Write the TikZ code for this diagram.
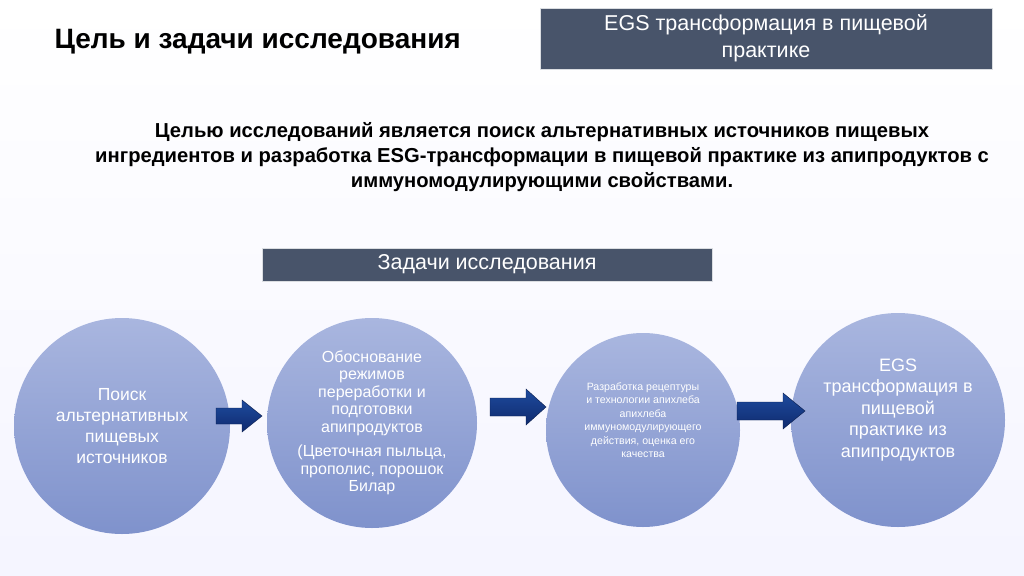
\documentclass[tikz,border=0pt]{standalone}
\usepackage{fontspec}
\setmainfont{Liberation Sans}
\definecolor{hdr}{HTML}{48546A}
\definecolor{circA}{HTML}{A9B6DF}
\definecolor{circB}{HTML}{7F92CC}
\definecolor{arrA}{HTML}{0F2A6E}
\definecolor{arrB}{HTML}{1E4B9E}
\begin{document}
\begin{tikzpicture}[x=1pt,y=-1pt,
  bar/.style={fill=hdr,draw=white!80!hdr,text=white,font=\fontsize{21.5}{27}\selectfont,align=center,inner sep=0pt},
  circ/.style={circle,top color=circA,bottom color=circB,draw=none,text=white,align=center,inner sep=0pt},
  ctext/.style={text=white,align=center},
  barrow/.style={top color=arrB,bottom color=arrA,draw=arrA!70!black}]
\useasboundingbox (0,0) rectangle (1024,575);
\fill[top color=white,bottom color=blue!4] (0,0) rectangle (1024,575);
\node[font=\bfseries\fontsize{28}{32}\selectfont,anchor=west] (title) at (51,42) {Цель и задачи исследования};
\node[bar,minimum width=452pt,minimum height=61pt] (egs) at (766,38.5) {EGS трансформация в пищевой\\практике};
\node[font=\bfseries\fontsize{20.2}{25}\selectfont,align=center] (goal) at (542,157) {Целью исследований является поиск альтернативных источников пищевых\\ингредиентов и разработка ESG-трансформации в пищевой практике из апипродуктов с\\иммуномодулирующими свойствами.};
\node[bar,minimum width=450pt,minimum height=33pt] (tasks) at (487,264.5) {Задачи исследования};
\node[circ,minimum size=216pt,font=\fontsize{17.5}{21}\selectfont] (c1) at (122,426) {Поиск\\альтернативных\\пищевых\\источников};
\node[circ,minimum size=210pt] (c2) at (372,423) {};
\node[ctext,font=\fontsize{16}{17.5}\selectfont] (c2t) at (372,393) {Обоснование\\режимов\\переработки и\\подготовки\\апипродуктов};
\node[ctext,font=\fontsize{16}{17.5}\selectfont] (c2u) at (372,470) {(Цветочная пыльца,\\прополис, порошок\\Билар};
\node[circ,minimum size=194pt] (c3) at (643,430) {};
\node[ctext,font=\fontsize{10.6}{13.5}\selectfont] (c3t) at (643,420) {Разработка рецептуры\\и технологии апихлеба\\апихлеба\\иммуномодулирующего\\действия, оценка его\\качества};
\node[circ,minimum size=214pt] (c4) at (898,420) {};
\node[ctext,font=\fontsize{18}{21.5}\selectfont] (c4t) at (898,410) {EGS\\трансформация в\\пищевой\\практике из\\апипродуктов};
\coordinate (a1) at (216,416);
\coordinate (a2) at (490,407);
\coordinate (a3) at (737,411);
\draw[barrow] (a1) ++(0,-8) -- ++(26,0) -- ++(0,-8) -- ++(20,16) -- ++(-20,16) -- ++(0,-8) -- ++(-26,0) -- cycle;
\draw[barrow] (a2) ++(0,-9) -- ++(36,0) -- ++(0,-9) -- ++(20,18) -- ++(-20,18) -- ++(0,-9) -- ++(-36,0) -- cycle;
\draw[barrow] (a3) ++(0,-9) -- ++(46,0) -- ++(0,-9) -- ++(22,18) -- ++(-22,18) -- ++(0,-9) -- ++(-46,0) -- cycle;
\end{tikzpicture}
\end{document}
